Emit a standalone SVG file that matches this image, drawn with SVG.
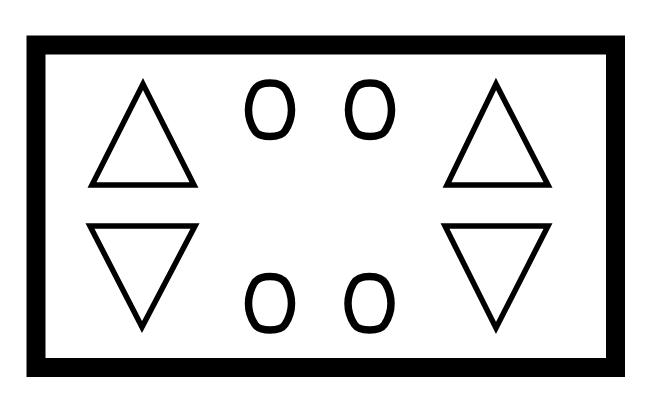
<svg xmlns="http://www.w3.org/2000/svg" width="672" height="400" viewBox="0 0 672 400">
<style>
.frame{fill:none;stroke:#000;stroke-width:19}
.tri{fill:none;stroke:#000;stroke-width:5.5;stroke-linejoin:miter}
.ov{fill:none;stroke:#000;stroke-width:7.5;stroke-linejoin:round}
</style>
<defs>
<path id="egg" d="M0 -27 C8 -27 13 -25 16 -20 C20 -13 21.5 -7 21.5 0 C21.5 8 19 15 15 21 C12 25.5 7 26.5 0 26.5 C-7 26.5 -12 25.5 -15 21 C-19 15 -21.5 8 -21.5 0 C-21.5 -7 -20 -13 -16 -20 C-13 -25 -8 -27 0 -27 Z"/>
</defs>
<rect width="672" height="400" fill="#fff"/>
<rect id="frame" class="frame" x="36" y="45" width="579.5" height="322.5"/>
<g id="triangles">
<path class="tri" d="M143 84 L92 185 L194 185 Z"/>
<path class="tri" d="M90 226 L195 226 L142 327 Z"/>
<path class="tri" d="M496 84 L447 185 L548 185 Z"/>
<path class="tri" d="M445 226 L548 226 L496 328 Z"/>
</g>
<g id="ovals">
<use href="#egg" class="ov" x="270" y="110"/>
<use href="#egg" class="ov" x="370" y="110"/>
<use href="#egg" class="ov" x="270" y="303.5"/>
<use href="#egg" class="ov" x="369.5" y="303.5"/>
</g>
</svg>
